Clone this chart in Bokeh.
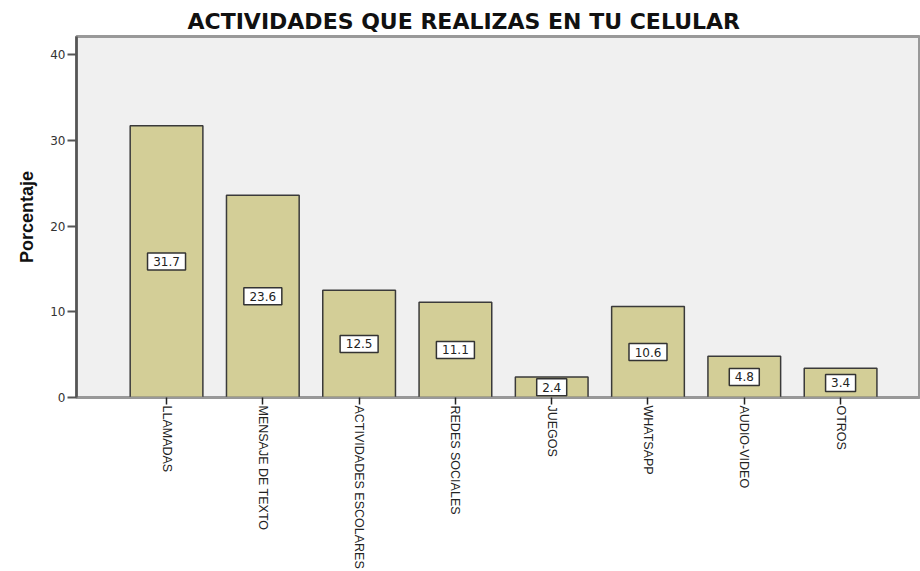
import math
from bokeh.plotting import figure
from bokeh.models import ColumnDataSource, FixedTicker, Range1d
from bokeh.core.properties import value
from bokeh.embed import file_html
from bokeh.resources import INLINE

categories = ["LLAMADAS", "MENSAJE DE TEXTO", "ACTIVIDADES ESCOLARES", "REDES SOCIALES",
              "JUEGOS", "WHATSAPP", "AUDIO-VIDEO", "OTROS"]
values = [31.7, 23.6, 12.5, 11.1, 2.4, 10.6, 4.8, 3.4]
y_ticks = [0, 10, 20, 30, 40]

idx = list(range(len(categories)))
txt = [f"{v:.1f}" for v in values]
src = ColumnDataSource(dict(
    x=idx, top=values, mid=[v / 2 for v in values],
    txt=txt, bw=[8 * len(t) + 6 for t in txt],
))

p = figure(width=920, height=571, output_backend="svg", toolbar_location=None,
           x_range=Range1d(-0.935, 7.83), y_range=Range1d(0, 42.1),
           min_border_left=76, min_border_right=0, min_border_top=36, min_border_bottom=173)

p.title.text = "ACTIVIDADES QUE REALIZAS EN TU CELULAR"
p.title.align = "left"
p.title.offset = 111
p.title.text_font = "DejaVu Sans"
p.title.text_font_size = "22px"
p.title.text_font_style = "bold"
p.title.text_color = "#111111"
p.title.standoff = 6

p.background_fill_color = "#f0f0f0"
p.border_fill_color = "white"
p.outline_line_color = "#999999"
p.outline_line_width = 3
p.grid.visible = False

p.vbar(x="x", top="top", width=0.755, bottom=0, source=src,
       fill_color="#d3ce97", line_color="#3a3a3a", line_width=1.5)

# value label boxes
p.rect(x="x", y="mid", width="bw", height=17, width_units="screen", height_units="screen",
       source=src, fill_color="white", line_color="#333333", line_width=1.5)
p.text(x="x", y="mid", text="txt", source=src, text_align="center", text_baseline="middle",
       text_font=value("DejaVu Sans"), text_font_size="12px", text_color="#222222")

# y axis
ya = p.yaxis[0]
ya.ticker = FixedTicker(ticks=y_ticks)
ya.axis_label = "Porcentaje"
ya.axis_label_text_font = "Liberation Sans"
ya.axis_label_text_font_size = "18px"
ya.axis_label_text_font_style = "bold"
ya.axis_label_text_color = "#111111"
ya.axis_label_standoff = 10
ya.major_label_text_font = "DejaVu Sans"
ya.major_label_text_font_size = "12px"
ya.major_label_text_color = "#333333"
ya.axis_line_color = "#555555"
ya.axis_line_width = 2.5
ya.major_tick_line_color = "#555555"
ya.major_tick_line_width = 2
ya.major_tick_out = 9
ya.major_tick_in = 0
ya.minor_tick_line_color = None
ya.major_label_standoff = 2

# x axis
xa = p.xaxis[0]
xa.ticker = FixedTicker(ticks=idx)
xa.major_label_overrides = {i: c for i, c in zip(idx, categories)}
xa.major_label_orientation = -math.pi / 2
xa.major_label_text_font = "Liberation Sans"
xa.major_label_text_font_size = "12.5px"
xa.major_label_text_color = "#222222"
xa.major_label_standoff = 1
xa.axis_line_color = "#999999"
xa.axis_line_width = 1.5
xa.major_tick_line_color = "#222222"
xa.major_tick_line_width = 1.5
xa.major_tick_out = 7
xa.major_tick_in = 0
xa.minor_tick_line_color = None

open("out.html", "w").write(file_html(p, INLINE))
